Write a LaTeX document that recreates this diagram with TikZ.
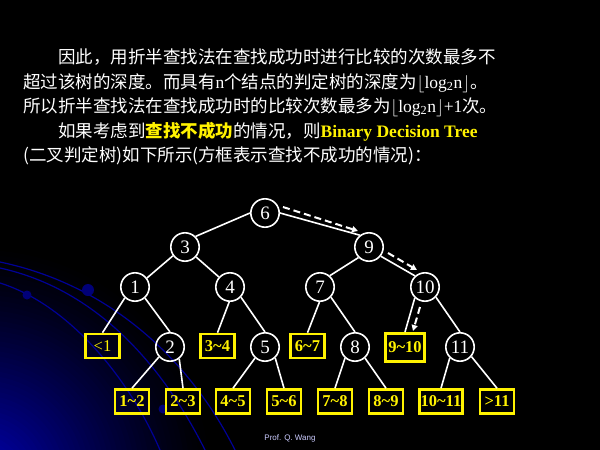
\documentclass[tikz,border=0pt]{standalone}
\usepackage{fontspec}
\setmainfont{Liberation Serif}
\newfontfamily\cjk{Noto Sans CJK SC}
\newfontfamily\footsans{Liberation Sans}
\usetikzlibrary{arrows.meta}

\definecolor{arcblue}{RGB}{0,0,150}
\definecolor{dotblue}{RGB}{0,0,120}

\begin{document}
\begin{tikzpicture}[x=1pt,y=-1pt,
  txt/.style={anchor=base west, inner sep=0pt, text=white,
    font=\fontsize{17.5}{20}\selectfont},
  nd/.style={circle, draw=white, line width=1.6pt, minimum size=28.4pt,
    inner sep=0pt, text=white, font=\fontsize{19}{19}\selectfont},
  lf/.style={draw=yellow, line width=2.6pt, minimum width=34pt,
    minimum height=24pt, inner sep=1pt, text=yellow,
    font=\fontsize{16.5}{16.5}\selectfont\bfseries},
  edge/.style={draw=white, line width=1.6pt},
  path/.style={draw=white, line width=2pt, dash pattern=on 7pt off 4pt,
    -{Triangle[length=6pt,width=6pt]}},
  arc/.style={draw=arcblue, line width=1.2pt}]

% canvas
\useasboundingbox (0,0) rectangle (600,450);
\fill[black] (0,0) rectangle (600,450);

% blue glow in the lower left corner
\begin{scope}
  \clip (0,0) rectangle (600,450);
  \foreach \i in {0,...,44} {
    \pgfmathsetmacro\rr{235-5*\i}
    \pgfmathsetmacro\pc{72*(1-\rr/235)^1.25}
    \fill[blue!\pc!black] (-20,480) circle (\rr);
  }
  \draw[arc] (0,262) .. controls (110,285) and (190,360) .. (235,450);
  \draw[arc] (0,268) .. controls (100,290) and (165,370) .. (205,450);
  \draw[arc] (0,283) .. controls (70,305) and (130,380) .. (160,450);
  \fill[dotblue] (88,290) circle (6);
  \fill[dotblue] (27,295) circle (4.5);
  \fill[dotblue] (163,409) circle (4.5);
\end{scope}

% explanatory text
\node[txt] (l1) at (58,63) {\cjk 因此，用折半查找法在查找成功时进行比较的次数最多不};
\node[txt] (l2) at (23,88) {{\cjk 超过该树的深度。而具有}n{\cjk 个结点的判定树的深度为}$\big\lfloor$log\textsubscript{2}n$\big\rfloor${\cjk 。}};
\node[txt] (l3) at (23,112) {{\cjk 所以折半查找法在查找成功时的比较次数最多为}$\big\lfloor$log\textsubscript{2}n$\big\rfloor$+1{\cjk 次。}};
\node[txt] (l4) at (58,137) {{\cjk 如果考虑到}{\cjk\bfseries\color{yellow}查找不成功}{\cjk 的情况，则}{\bfseries\color{yellow}Binary Decision Tree}};
\node[txt] (l5) at (23,161) {\cjk (二叉判定树)如下所示(方框表示查找不成功的情况)：};

% internal nodes
\node[nd] (n6) at (265,213) {6};
\node[nd] (n3) at (185,247) {3};
\node[nd] (n9) at (369,247) {9};
\node[nd] (n1) at (135,287) {1};
\node[nd] (n4) at (230,287) {4};
\node[nd] (n7) at (320,287) {7};
\node[nd] (n10) at (425,287) {10};
\node[nd] (n2) at (170,347) {2};
\node[nd] (n5) at (265,347) {5};
\node[nd] (n8) at (355,347) {8};
\node[nd] (n11) at (460,347) {11};

% failure leaves
\node[lf, font=\fontsize{16.5}{16.5}\selectfont] (b0) at (102.5,346) {<1};
\node[lf] (b34) at (217.5,346) {3\textasciitilde4};
\node[lf] (b67) at (307.5,346) {6\textasciitilde7};
\node[lf, minimum width=39.5pt, minimum height=28.5pt] (b910) at (405,347.5) {9\textasciitilde10};
\node[lf] (b12) at (132,401.5) {1\textasciitilde2};
\node[lf] (b23) at (183,401.5) {2\textasciitilde3};
\node[lf] (b45) at (233,401.5) {4\textasciitilde5};
\node[lf] (b56) at (284,401.5) {5\textasciitilde6};
\node[lf] (b78) at (335,401.5) {7\textasciitilde8};
\node[lf] (b89) at (386,401.5) {8\textasciitilde9};
\node[lf, minimum width=43.5pt] (b1011) at (441,401.5) {10\textasciitilde11};
\node[lf] (b11p) at (497,401.5) {>11};

% tree edges
\draw[edge] (n6.180) -- (n3.45);
\draw[edge] (n6.0) -- (n9.128);
\draw[edge] (n3.-144) -- (n1.37);
\draw[edge] (n3.-42) -- (n4.138);
\draw[edge] (n9.-135) -- (n7.49);
\draw[edge] (n9.-38) -- (n10.132);
\draw[edge] (n1.-133) -- (b0.north);
\draw[edge] (n1.-48) -- (n2.north);
\draw[edge] (n4.-93) -- (b34.north);
\draw[edge] (n4.-43) -- (n5.north);
\draw[edge] (n7.-92) -- (b67.north);
\draw[edge] (n7.-43) -- (n8.north);
\draw[edge] (n10.-133) -- (b910.north);
\draw[edge] (n10.-43) -- (n11.north);
\draw[edge] (n2.-138) -- (b12.north);
\draw[edge] (n2.-52) -- (b23.north);
\draw[edge] (n5.-132) -- (b45.north);
\draw[edge] (n5.-47) -- (b56.north);
\draw[edge] (n8.-132) -- (b78.north);
\draw[edge] (n8.-48) -- (b89.north);
\draw[edge] (n11.-133) -- (b1011.north);
\draw[edge] (n11.-40) -- (b11p.north);

% search path for an unsuccessful lookup
\coordinate (p1s) at (283,207);
\coordinate (p1e) at (358,231);
\coordinate (p2s) at (388,253);
\coordinate (p2e) at (417,270);
\coordinate (p3s) at (420,307);
\coordinate (p3e) at (413,331);
\draw[path] (p1s) -- (p1e);
\draw[path] (p2s) -- (p2e);
\draw[path] (p3s) -- (p3e);

% footer
\node[font=\footsans\fontsize{8}{8}\selectfont, text=white!80!blue] (foot) at (290,438) {Prof. Q. Wang};
\end{tikzpicture}
\end{document}
